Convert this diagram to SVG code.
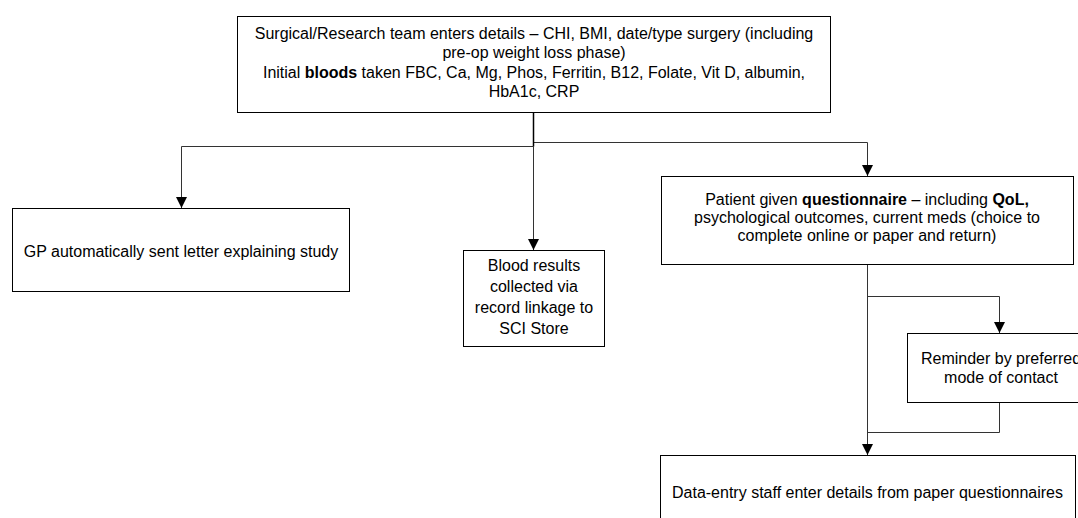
<svg xmlns="http://www.w3.org/2000/svg" width="1078" height="518" viewBox="0 0 1078 518">
<style>
.box{fill:#fff;stroke:#000;stroke-width:1}
.t{font-family:"Liberation Sans",Arial,sans-serif;font-size:16px;fill:#000;text-anchor:middle}
.b{font-weight:bold}
.c{fill:none;stroke:#333;stroke-width:1}
</style>
<defs>
<marker id="ah" viewBox="0 0 10 10" refX="10" refY="5" markerWidth="11" markerHeight="11" markerUnits="userSpaceOnUse" orient="auto">
<path d="M0,0 L10,5 L0,10 z" fill="#000"/>
</marker>
</defs>
<rect width="1078" height="518" fill="#fff"/>
<g id="connectors">
<path class="c" d="M533.5 146.5 H181.5 V208" marker-end="url(#ah)"/>
<path class="c" d="M533.5 142.5 H867.5 V176" marker-end="url(#ah)"/>
<path class="c" d="M533.5 146.5 V250" marker-end="url(#ah)"/>
<path d="M533.5 112.5 V146.5" fill="none" stroke="#000" stroke-width="1.5"/>
<path class="c" d="M867.5 264.5 V455" marker-end="url(#ah)"/>
<path class="c" d="M867.5 296.5 H999.5 V333" marker-end="url(#ah)"/>
<path class="c" d="M999.5 402.5 V432.5 H867.5"/>
</g>
<g id="n_top">
<rect class="box" x="237.5" y="16.5" width="593" height="96"/>
<text class="t" x="534" y="38.5">Surgical/Research team enters details – CHI, BMI, date/type surgery (including</text>
<text class="t" x="534" y="58">pre-op weight loss phase)</text>
<text class="t" x="534" y="77.5">Initial <tspan class="b">bloods</tspan> taken FBC, Ca, Mg, Phos, Ferritin, B12, Folate, Vit D, albumin,</text>
<text class="t" x="534" y="97">HbA1c, CRP</text>
</g>
<g id="n_gp">
<rect class="box" x="12.5" y="208.5" width="337" height="83"/>
<text class="t" x="181" y="256.5">GP automatically sent letter explaining study</text>
</g>
<g id="n_blood">
<rect class="box" x="463.5" y="250.5" width="141" height="96"/>
<text class="t" x="534" y="271">Blood results</text>
<text class="t" x="534" y="292">collected via</text>
<text class="t" x="534" y="313">record linkage to</text>
<text class="t" x="534" y="334">SCI Store</text>
</g>
<g id="n_quest">
<rect class="box" x="661.5" y="176.5" width="412" height="88"/>
<text class="t" x="867" y="205">Patient given <tspan class="b">questionnaire</tspan> – including <tspan class="b">QoL,</tspan></text>
<text class="t" x="867" y="223">psychological outcomes, current meds (choice to</text>
<text class="t" x="867" y="240.5">complete online or paper and return)</text>
</g>
<g id="n_reminder">
<rect class="box" x="907.5" y="333.5" width="188" height="69"/>
<text class="t" x="1001" y="363.5">Reminder by preferred</text>
<text class="t" x="1001" y="382.5">mode of contact</text>
</g>
<g id="n_data">
<rect class="box" x="660.5" y="455.5" width="415" height="72"/>
<text class="t" x="867.5" y="497.5">Data-entry staff enter details from paper questionnaires</text>
</g>
</svg>
